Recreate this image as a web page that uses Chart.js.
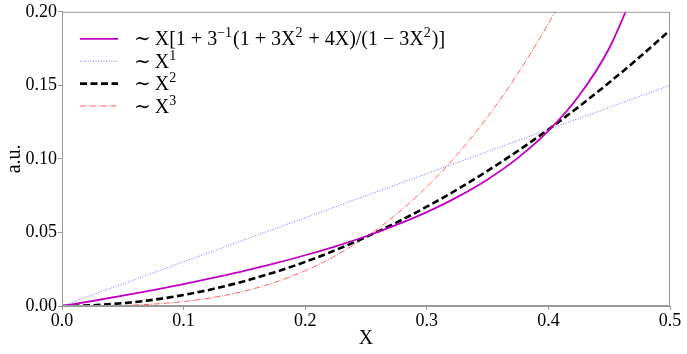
<!DOCTYPE html>
<html>
<head>
<meta charset="utf-8">
<script src="https://cdn.jsdelivr.net/npm/chart.js@4.4.0/dist/chart.umd.min.js"></script>
<style>
	html, body { margin: 0; padding: 0; background: #fff; }
	#wrap { width: 687px; height: 354px; }
</style>
</head>
<body>
<div id="wrap"><canvas id="line-chart" width="687" height="354"></canvas></div>
<script>
// values
var xValues = [0, 0.025, 0.05, 0.075, 0.1, 0.125, 0.15, 0.175, 0.2, 0.225, 0.25,
	0.275, 0.3, 0.325, 0.35, 0.375, 0.4, 0.425, 0.45, 0.475, 0.5];

var seriesMain = [0, 0.0034, 0.0070, 0.0108, 0.0149, 0.0193, 0.0239, 0.0290, 0.0345, 0.0406, 0.0474,
	0.0551, 0.0638, 0.0740, 0.0860, 0.1007, 0.1190, 0.1427, 0.1752, 0.2228];
var seriesX1 = [0, 0.0075, 0.015, 0.0225, 0.030, 0.0375, 0.045, 0.0525, 0.060, 0.0675, 0.075,
	0.0825, 0.090, 0.0975, 0.105, 0.1125, 0.120, 0.1275, 0.135, 0.1425, 0.150];
var seriesX2 = [0, 0.0005, 0.0019, 0.0042, 0.0075, 0.0117, 0.0169, 0.0230, 0.0300, 0.0380, 0.0469,
	0.0567, 0.0675, 0.0792, 0.0919, 0.1055, 0.1200, 0.1355, 0.1519, 0.1692, 0.1875];
var seriesX3 = [0, 0.0000, 0.0004, 0.0013, 0.0030, 0.0059, 0.0101, 0.0161, 0.0240, 0.0342, 0.0469,
	0.0624, 0.0810, 0.1030, 0.1286, 0.1582, 0.1920, 0.2303];

var labels = [
	'\u223C\u2009X[1 + 3^{\u22121}(1 + 3X^{2} + 4X)/(1 \u2212 3X^{2})]',
	'\u223C\u2009X^{1}',
	'\u223C\u2009X^{2}',
	'\u223C\u2009X^{3}'
];
var xTicks = [0, 0.1, 0.2, 0.3, 0.4, 0.5];
var yTicks = [0, 0.05, 0.10, 0.15, 0.20];

var serif = "'Liberation Serif', 'DejaVu Serif', serif";

function toPoints(values) {
	var pts = [];
	for (var i = 0; i < values.length; i++) {
		pts.push({ x: xValues[i], y: values[i] });
	}
	return pts;
}

// draws text with ^{..} parts as superscripts
function drawRich(ctx, text, x, y) {
	var parts = text.split(/\^\{([^}]*)\}/);
	ctx.textBaseline = 'alphabetic';
	ctx.textAlign = 'left';
	ctx.fillStyle = '#000';
	for (var i = 0; i < parts.length; i++) {
		var sup = i % 2 == 1;
		ctx.font = (sup ? '14px ' : '20px ') + serif;
		ctx.fillText(parts[i], x, sup ? y - 8 : y);
		x += ctx.measureText(parts[i]).width + (sup ? 1 : 0);
	}
}

var legendPlugin = {
	id: 'insideLegend',
	afterDraw: function (chart) {
		var ctx = chart.ctx;
		var area = chart.chartArea;
		chart.data.datasets.forEach(function (ds, i) {
			var y = area.top + 27 + i * 22.4;
			ctx.save();
			ctx.strokeStyle = ds.borderColor;
			ctx.lineWidth = ds.borderWidth;
			ctx.setLineDash(ds.borderDash || []);
			ctx.beginPath();
			ctx.moveTo(area.left + 18, y);
			ctx.lineTo(area.left + 56, y);
			ctx.stroke();
			ctx.restore();
			drawRich(ctx, ds.label, area.left + 72, y + 6.5);
		});
	}
};

var framePlugin = {
	id: 'frame',
	afterDraw: function (chart) {
		var ctx = chart.ctx;
		var a = chart.chartArea;
		ctx.save();
		ctx.strokeStyle = '#999';
		ctx.lineWidth = 1;
		ctx.strokeRect(a.left + 0.5, a.top + 0.5, a.right - a.left - 1, a.bottom - a.top - 1);
		ctx.restore();
	}
};

var lineChart = new Chart(document.getElementById("line-chart"), {
	type: 'line',
	data: {
		datasets: [
			{
				label: labels[0],
				data: toPoints(seriesMain),
				borderColor: '#c000c0',
				borderWidth: 1.8,
				cubicInterpolationMode: 'monotone',
				clip: 0
			},
			{
				label: labels[1],
				data: toPoints(seriesX1),
				borderColor: '#7070ff',
				borderWidth: 1,
				borderDash: [1, 1.6],
				clip: 0
			},
			{
				label: labels[2],
				data: toPoints(seriesX2),
				borderColor: '#000',
				borderWidth: 2.6,
				borderDash: [7, 3.5],
				cubicInterpolationMode: 'monotone',
				clip: 0
			},
			{
				label: labels[3],
				data: toPoints(seriesX3),
				borderColor: '#ff5050',
				borderWidth: 0.9,
				borderDash: [6, 1.6, 1, 1.6],
				cubicInterpolationMode: 'monotone',
				clip: 0
			}
		]
	},
	options: {
		responsive: false,
		animation: false,
		layout: { padding: { top: 11, right: 17, left: 0, bottom: 0 } },
		elements: { point: { radius: 0 } },
		plugins: {
			legend: { display: false },
			tooltip: { enabled: false }
		},
		scales: {
			x: {
				type: 'linear',
				min: 0,
				max: 0.5,
				afterBuildTicks: function (s) { s.ticks = xTicks.map(function (v) { return { value: v }; }); },
				afterFit: function (s) { s.height = 48; },
				ticks: {
					font: { family: serif, size: 18 },
					color: '#000',
					padding: 0,
					maxRotation: 0,
					callback: function (v) { return v.toFixed(1); }
				},
				grid: { drawOnChartArea: false, tickLength: 4, color: '#999' },
				border: { color: '#999' },
				title: {
					display: true,
					text: 'X',
					color: '#000',
					font: { family: serif, size: 20 },
					padding: { top: 0, bottom: 3 }
				}
			},
			y: {
				min: 0,
				max: 0.2,
				afterBuildTicks: function (s) { s.ticks = yTicks.map(function (v) { return { value: v }; }); },
				afterFit: function (s) { s.width = 62; },
				ticks: {
					font: { family: serif, size: 18 },
					color: '#000',
					padding: 1,
					callback: function (v) { return v.toFixed(2); }
				},
				grid: { drawOnChartArea: false, tickLength: 4, color: '#999' },
				border: { color: '#999' },
				title: {
					display: true,
					text: 'a.u.',
					color: '#000',
					font: { family: serif, size: 20 },
					padding: { top: 3, bottom: 0 }
				}
			}
		}
	},
	plugins: [legendPlugin, framePlugin]
});
</script>
</body>
</html>
